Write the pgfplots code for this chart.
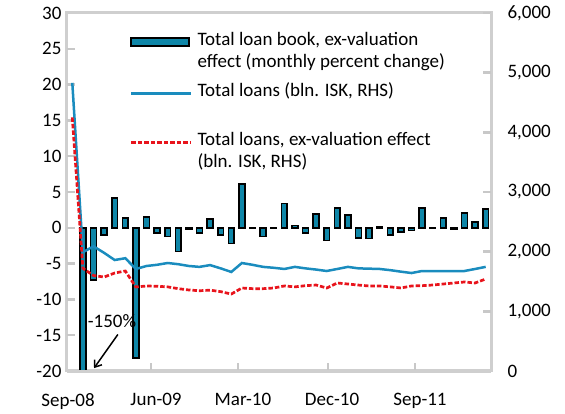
\documentclass[border=0pt]{standalone}
\usepackage{pgfplots}
\pgfplotsset{compat=1.18}
\usepackage{pgfplotstable}
\usepackage{fontspec}
\setmainfont{Carlito}
\usetikzlibrary{arrows.meta}
\definecolor{barfill}{HTML}{0E86A8}
\definecolor{lineblue}{HTML}{1A8CBE}
\definecolor{linered}{HTML}{E8141C}
\definecolor{axgray}{HTML}{CFCFCF}
\definecolor{tickgray}{HTML}{C8C8C8}

\pgfplotsset{
  mylinelegend/.style={legend image code/.code={\draw[##1] (0pt,0.35em) -- (60pt,0.35em);}},
  mybarlegend/.style={legend image code/.code={\draw[fill=barfill,draw=black,line width=1.6pt] (0pt,0.35em-4pt) rectangle (58pt,0.35em+4pt);}},
}

\pgfplotstableread{
i bar
1 -150
2 -7.3
3 -1.0
4 4.2
5 1.4
6 -18.2
7 1.5
8 -0.7
9 -1.2
10 -3.3
11 -0.2
12 -0.7
13 1.2
14 -1.0
15 -2.2
16 6.1
17 -0.1
18 -1.2
19 -0.1
20 3.4
21 0.3
22 -0.7
23 1.9
24 -1.8
25 2.8
26 1.8
27 -1.4
28 -1.5
29 0.2
30 -1.0
31 -0.6
32 -0.4
33 2.8
34 -0.1
35 1.4
36 -0.2
37 2.1
38 0.8
39 2.6
}\bars

\pgfplotstableread{
i blue red
0 4830 4250
1 1990 1720
2 2090 1600
3 1980 1575
4 1860 1642
5 1890 1676
6 1710 1408
7 1760 1425
8 1780 1420
9 1810 1410
10 1790 1380
11 1760 1358
12 1745 1345
13 1775 1355
14 1720 1330
15 1660 1290
16 1810 1391
17 1780 1380
18 1745 1380
19 1730 1391
20 1710 1425
21 1745 1410
22 1720 1430
23 1700 1441
24 1676 1391
25 1710 1475
26 1745 1458
27 1720 1440
28 1715 1425
29 1710 1425
30 1690 1410
31 1665 1391
32 1642 1425
33 1676 1430
34 1676 1441
35 1676 1458
36 1676 1475
37 1676 1492
38 1710 1475
39 1745 1542
}\lines

\newcommand{\chartfont}{\fontsize{19}{22}\selectfont}

\begin{document}
\begin{tikzpicture}
\pgfplotsset{
  common/.style={
    width=424pt, height=358pt, scale only axis,
    at={(0pt,0pt)}, anchor=south west,
    xmin=-0.5, xmax=39.5,
    axis line style={axgray, line width=3pt},
    tick align=inside,
    major tick length=8pt,
    every tick/.style={draw=tickgray, line width=2.5pt},
    major tick style={draw=tickgray, line width=2.5pt},
    tick label style={font=\chartfont},
    /pgf/number format/assume math mode=true,
  }
}
\begin{axis}[common,
  ymin=-20, ymax=30,
  ytick={-20,-15,...,30},
  ytick pos=left,
  xtick pos=bottom,
  xtick={7.42,15.63,24.13,32.33},
  xticklabels={},
  yticklabel style={xshift=-2pt},
]
\addplot[ybar, bar width=5.8pt, fill=barfill, draw=black, line width=1.6pt] table[x=i,y=bar]{\bars};
\pgfplotsinvokeforeach{-15,-10,-5,0,5,10,15,20,25}{
  \draw[tickgray, line width=2.5pt] (axis cs:-0.5,#1) -- ++(8pt,0pt);
}
\pgfplotsinvokeforeach{7.42,15.63,24.13,32.33}{
  \draw[tickgray, line width=2.5pt] (axis cs:#1,-20) -- ++(0pt,8pt);
}
\node[anchor=west, inner sep=0pt, font=\chartfont] at (axis cs:1.45,-13.1) {-150\%};
\draw[-{Straight Barb[length=6pt,width=9pt]}, line width=1.5pt] (axis cs:4.3,-14.9) -- (axis cs:2.05,-19.6);
\end{axis}
\begin{axis}[common,
  ymin=0, ymax=6000,
  ytick={0,1000,...,6000},
  axis x line*=bottom,
  axis y line*=right,
  xtick={-0.4,7.9,16.1,24.5,32.8},
  xticklabels={Sep-08,Jun-09,Mar-10,Dec-10,Sep-11},
  xtick style={draw=none},
  xticklabel style={yshift=-19pt},
  yticklabel style={xshift=13pt},
  /pgf/number format/1000 sep={,},
  legend cell align=left,
  legend style={at={(rel axis cs:0.148,0.953)}, anchor=north west, draw=none, fill=none,
    font=\chartfont, row sep=9pt, column sep=5pt, inner sep=0pt,
    nodes={text depth={}, text height={}, inner sep=0pt, anchor=base west}},
]
\pgfplotsinvokeforeach{1000,2000,3000,4000,5000}{
  \draw[tickgray, line width=2.5pt] (axis cs:39.5,#1) -- ++(-8pt,0pt);
}
\addlegendimage{mybarlegend}
\addlegendentry{\begin{tabular}[t]{@{}l@{}}Total loan book,  ex-valuation\\effect (monthly percent  change)\end{tabular}}
\addplot[lineblue, line width=2.5pt, no marks, mylinelegend] table[x=i,y=blue]{\lines};
\addlegendentry{Total loans (bln.  ISK,  RHS)}
\addlegendimage{empty legend}
\addlegendentry{\rule{0pt}{13pt}}
\addplot[linered, line width=2.7pt, dash pattern=on 4.5pt off 2pt, no marks, mylinelegend] table[x=i,y=red]{\lines};
\addlegendentry{\begin{tabular}[t]{@{}l@{}}Total loans, ex-valuation  effect\\(bln. ISK,  RHS)\end{tabular}}
\end{axis}
\path (-67pt,-42pt) rectangle (498pt,371pt);
\end{tikzpicture}
\end{document}
